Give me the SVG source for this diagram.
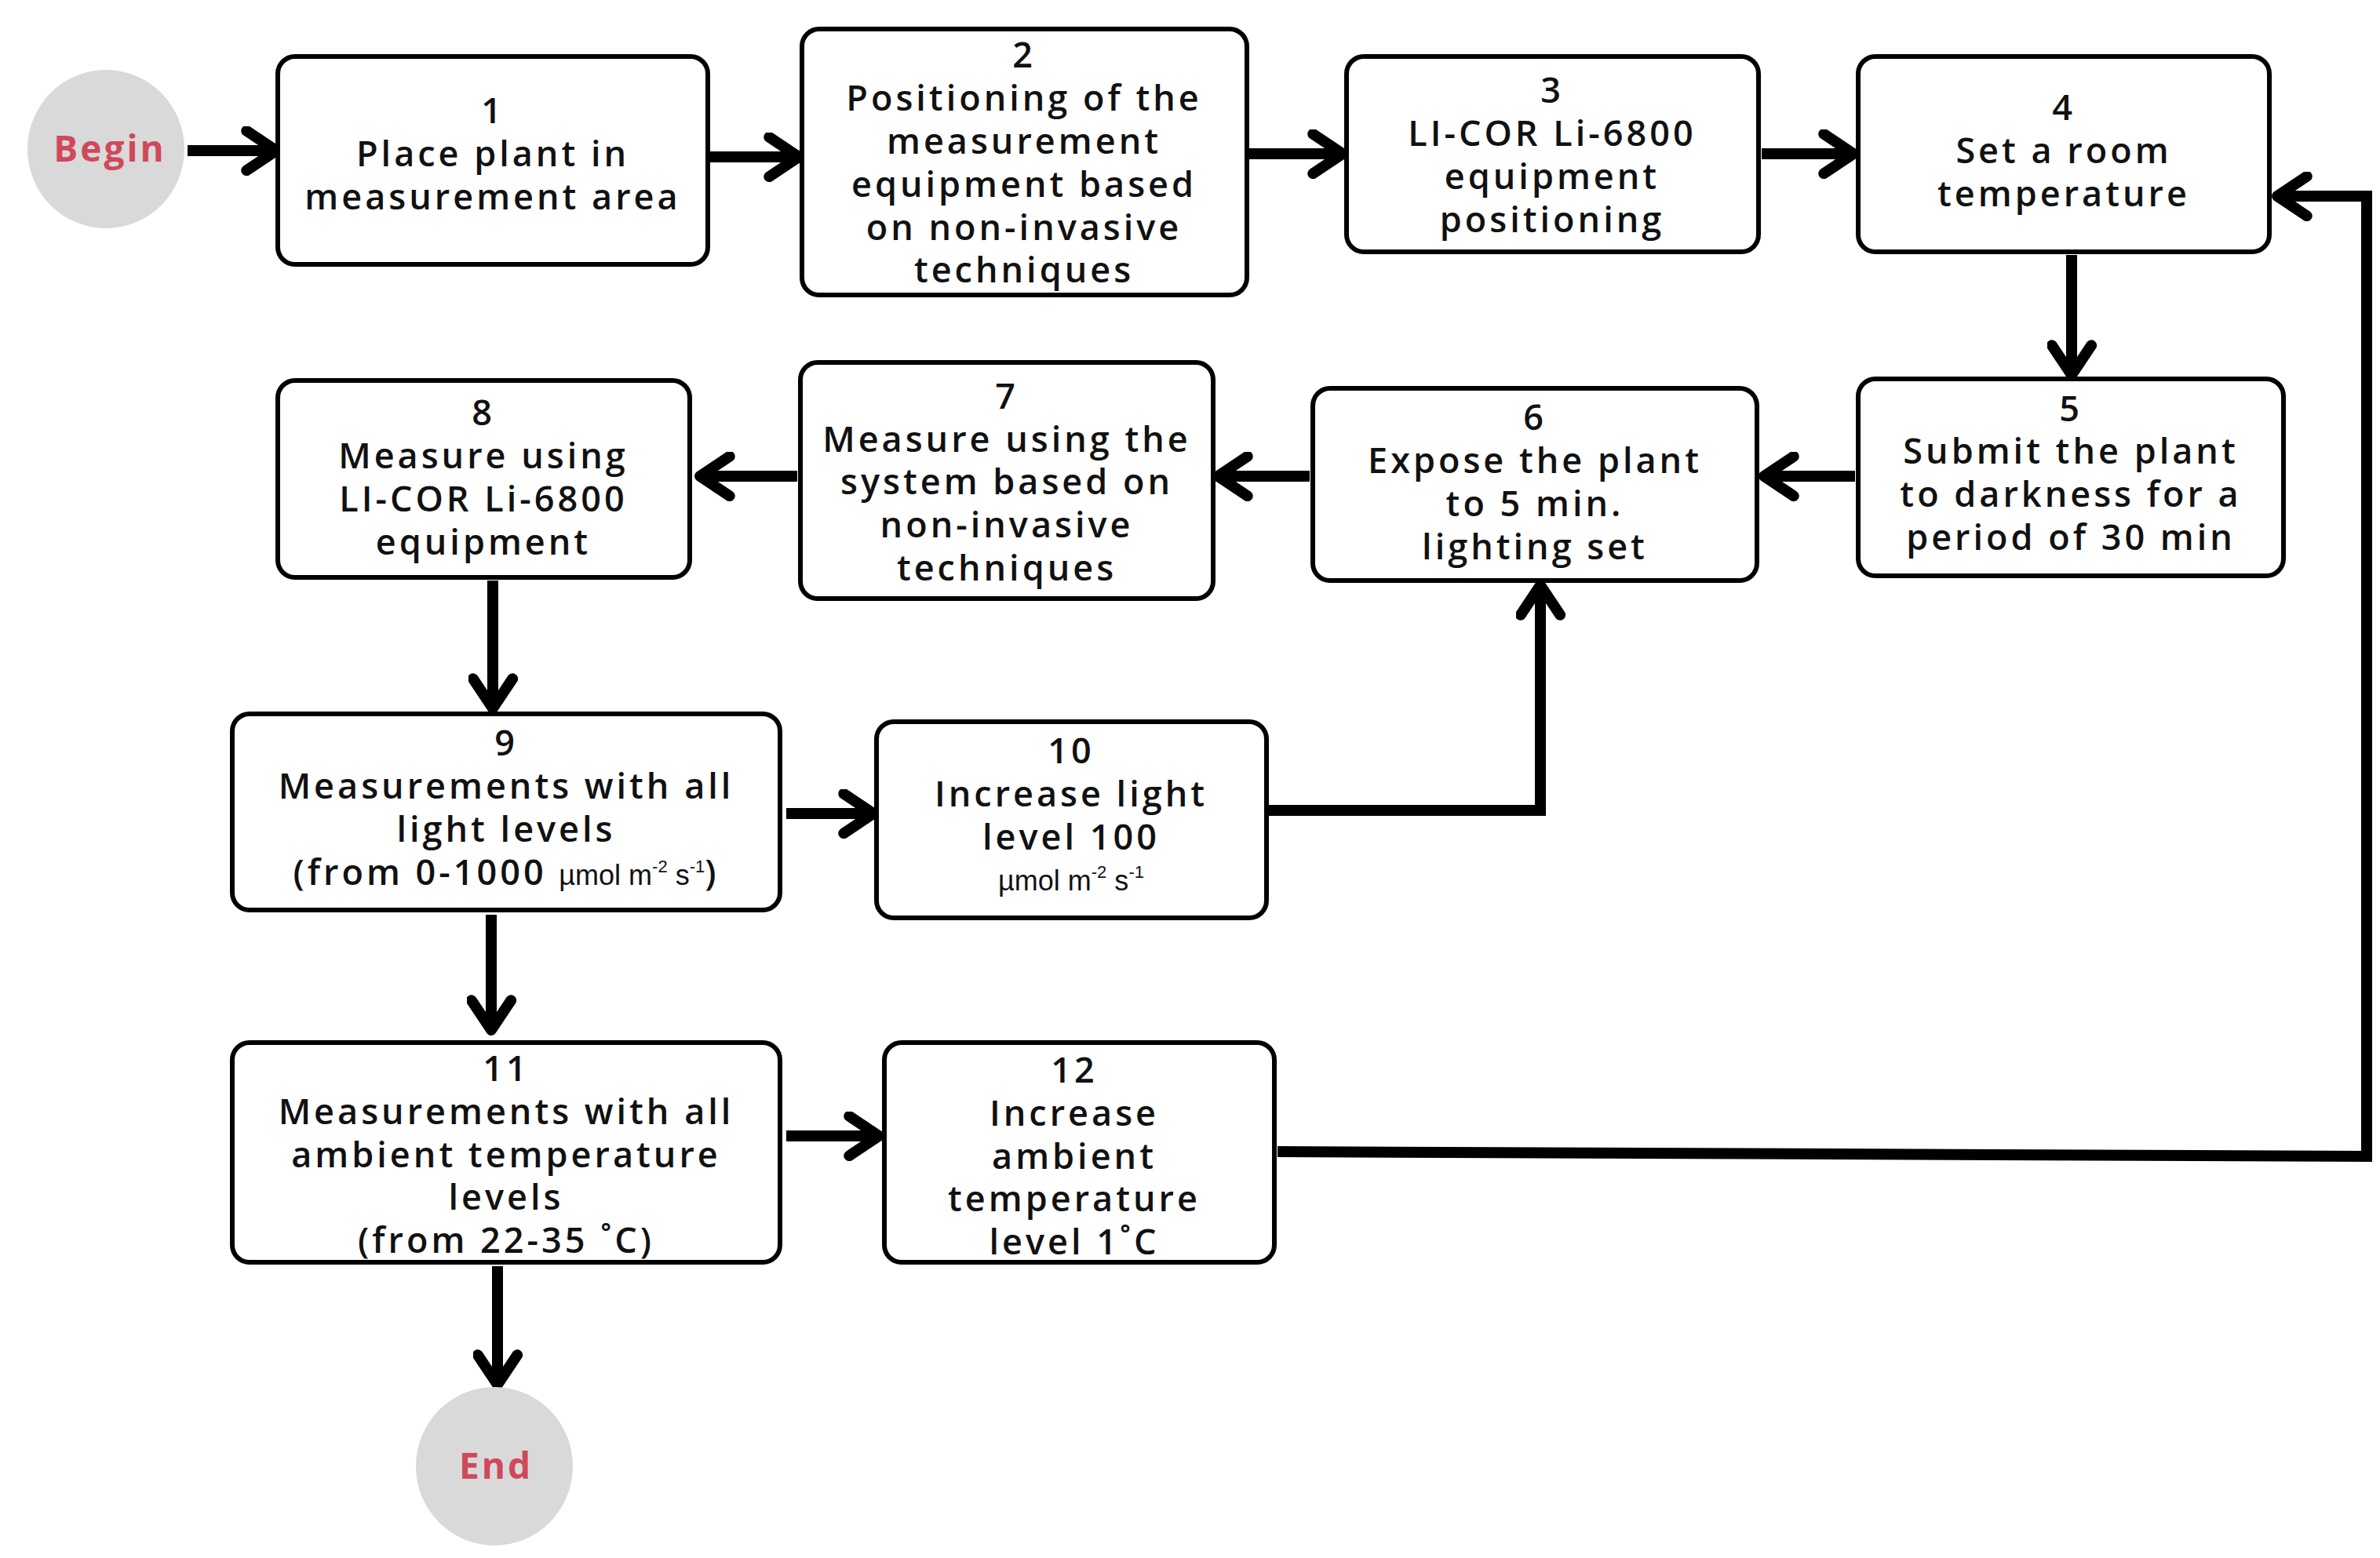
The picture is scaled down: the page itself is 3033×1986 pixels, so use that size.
<svg xmlns="http://www.w3.org/2000/svg" width="3033" height="1986" viewBox="0 0 3033 1986">
<style>
.box{fill:#fff;stroke:#000;stroke-width:6}
.t{font-family:"Open Sans","Noto Sans",sans-serif;font-size:45px;letter-spacing:4px;text-anchor:middle;fill:#111;font-weight:600}
.u{font-family:"Liberation Sans Narrow","Liberation Sans",sans-serif;font-size:36px;letter-spacing:0;font-weight:400}
.sup{font-size:22px}
.term{fill:#d9d9d9}
.tt{font-family:"Open Sans","Noto Sans",sans-serif;font-size:46px;font-weight:700;letter-spacing:3px;fill:#d0485a;text-anchor:middle}
.c{fill:none;stroke:#000;stroke-width:14}
</style>
<defs>
<marker id="a" viewBox="0 0 10 10" refX="8" refY="5" markerWidth="4.5" markerHeight="4.5" orient="auto" markerUnits="strokeWidth">
<polyline points="2,1 8,5 2,9" fill="none" stroke="#000" stroke-width="2.2" stroke-linecap="round" stroke-linejoin="round"/>
</marker>
</defs>
<rect width="3033" height="1986" fill="#fff"/>
<g id="connectors" marker-end="url(#a)">
<path class="c" d="M239,192H352"/>
<path class="c" d="M904,200H1018"/>
<path class="c" d="M1590,196H1711"/>
<path class="c" d="M2245,196H2362"/>
<path class="c" d="M2640,325V478"/>
<path class="c" d="M2364,607H2248"/>
<path class="c" d="M1669,607H1552"/>
<path class="c" d="M1016,607H892"/>
<path class="c" d="M628,740V903"/>
<path class="c" d="M1002,1037H1113"/>
<path class="c" d="M1616,1033H1963V746"/>
<path class="c" d="M626,1166V1313"/>
<path class="c" d="M1002,1448H1120"/>
<path class="c" d="M1628,1468L3016,1474V250H2902"/>
<path class="c" d="M634,1614V1765"/>
</g>
<g id="begin"><ellipse class="term" cx="135" cy="190" rx="100" ry="101"/><text class="tt" x="140" y="206">Begin</text></g>
<g id="n1"><rect class="box" x="354" y="72" width="548" height="265" rx="22"/>
<text class="t" x="628" y="157">1</text><text class="t" x="628" y="212">Place plant in</text><text class="t" x="628" y="267">measurement area</text></g>
<g id="n2"><rect class="box" x="1022" y="37" width="567" height="339" rx="22"/>
<text class="t" x="1305" y="86">2</text><text class="t" x="1305" y="141">Positioning of the</text><text class="t" x="1305" y="196">measurement</text><text class="t" x="1305" y="251">equipment based</text><text class="t" x="1305" y="306">on non-invasive</text><text class="t" x="1305" y="360">techniques</text></g>
<g id="n3"><rect class="box" x="1716" y="72" width="525" height="249" rx="22"/>
<text class="t" x="1978" y="131">3</text><text class="t" x="1978" y="186">LI-COR Li-6800</text><text class="t" x="1978" y="241">equipment</text><text class="t" x="1978" y="296">positioning</text></g>
<g id="n4"><rect class="box" x="2368" y="72" width="524" height="249" rx="22"/>
<text class="t" x="2630" y="153">4</text><text class="t" x="2630" y="208">Set a room</text><text class="t" x="2630" y="263">temperature</text></g>
<g id="n5"><rect class="box" x="2368" y="483" width="542" height="251" rx="22"/>
<text class="t" x="2639" y="537">5</text><text class="t" x="2639" y="591">Submit the plant</text><text class="t" x="2639" y="646">to darkness for a</text><text class="t" x="2639" y="701">period of 30 min</text></g>
<g id="n6"><rect class="box" x="1673" y="495" width="566" height="245" rx="22"/>
<text class="t" x="1956" y="548">6</text><text class="t" x="1956" y="603">Expose the plant</text><text class="t" x="1956" y="658">to 5 min.</text><text class="t" x="1956" y="713">lighting set</text></g>
<g id="n7"><rect class="box" x="1020" y="462" width="526" height="301" rx="22"/>
<text class="t" x="1283" y="521">7</text><text class="t" x="1283" y="576">Measure using the</text><text class="t" x="1283" y="630">system based on</text><text class="t" x="1283" y="685">non-invasive</text><text class="t" x="1283" y="740">techniques</text></g>
<g id="n8"><rect class="box" x="354" y="485" width="525" height="251" rx="22"/>
<text class="t" x="616" y="542">8</text><text class="t" x="616" y="597">Measure using</text><text class="t" x="616" y="652">LI-COR Li-6800</text><text class="t" x="616" y="707">equipment</text></g>
<g id="n9"><rect class="box" x="296" y="910" width="698" height="250" rx="22"/>
<text class="t" x="645" y="963">9</text><text class="t" x="645" y="1018">Measurements with all</text><text class="t" x="645" y="1073">light levels</text>
<text class="t" x="645" y="1128">(from 0-1000 <tspan class="u">µmol m<tspan class="sup" dy="-16">-2</tspan><tspan dy="16"> s</tspan><tspan class="sup" dy="-16">-1</tspan></tspan><tspan dy="16">)</tspan></text></g>
<g id="n10"><rect class="box" x="1117" y="920" width="497" height="250" rx="22"/>
<text class="t" x="1365" y="973">10</text><text class="t" x="1365" y="1028">Increase light</text><text class="t" x="1365" y="1083">level 100</text>
<text class="t u" x="1365" y="1135">µmol m<tspan class="sup" dy="-16">-2</tspan><tspan dy="16"> s</tspan><tspan class="sup" dy="-16">-1</tspan></text></g>
<g id="n11"><rect class="box" x="296" y="1329" width="698" height="280" rx="22"/>
<text class="t" x="645" y="1378">11</text><text class="t" x="645" y="1433">Measurements with all</text><text class="t" x="645" y="1488">ambient temperature</text><text class="t" x="645" y="1542">levels</text><text class="t" x="645" y="1597">(from 22-35 ˚C)</text></g>
<g id="n12"><rect class="box" x="1127" y="1329" width="497" height="280" rx="22"/>
<text class="t" x="1369" y="1380">12</text><text class="t" x="1369" y="1435">Increase</text><text class="t" x="1369" y="1490">ambient</text><text class="t" x="1369" y="1544">temperature</text><text class="t" x="1369" y="1599">level 1˚C</text></g>
<g id="end"><ellipse class="term" cx="630" cy="1869" rx="100" ry="101"/><text class="tt" x="632" y="1885">End</text></g>
</svg>
